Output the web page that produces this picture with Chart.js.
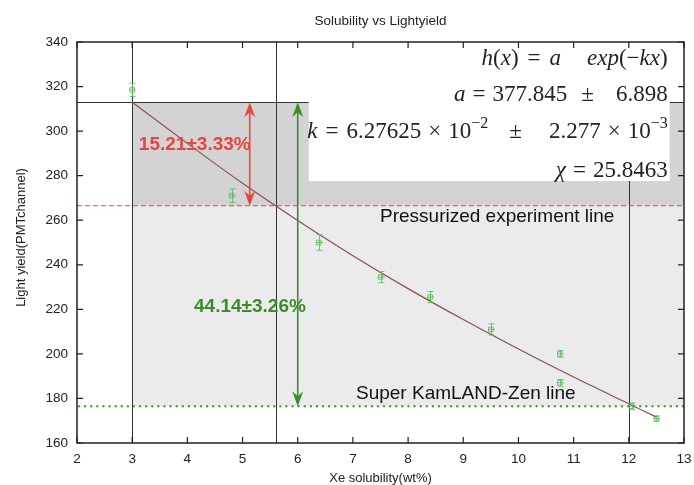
<!DOCTYPE html>
<html>
<head>
<meta charset="utf-8">
<script src="https://cdn.jsdelivr.net/npm/chart.js@4/dist/chart.umd.min.js"></script>
<style>
  html, body { margin: 0; padding: 0; background: #fff; }
  #wrap { width: 694px; height: 485px; }
</style>
</head>
<body>
<div id="wrap"><canvas id="c" width="694" height="485"></canvas></div>
<script>
// Measured light yield against Xe solubility
const solubility = [3.0, 4.8, 6.38, 7.5, 8.4, 9.5, 10.75, 10.75, 12.05, 12.5];
const lightYield = [318.5, 271.0, 250.0, 234.5, 225.5, 211.0, 200.0, 187.0, 176.5, 171.0];
const yieldError = [3.0, 3.0, 3.5, 2.5, 2.5, 2.5, 1.5, 1.5, 1.5, 1.2];

// Exponential fit h(x) = a exp(-kx), sampled along the curve
const fitX = [3, 4, 5, 6, 7, 8, 9, 10, 11, 12, 12.5];
const fitY = [313.0, 294.5, 276.6, 259.9, 244.1, 229.3, 215.4, 202.2, 189.6, 177.6, 171.6];

// Reference levels and markers
const startYield = 313.0;        // yield at 3 wt%
const pressurizedYield = 266.5;  // pressurized experiment line
const kamlandYield = 176.5;      // Super KamLAND-Zen line
const verticalMarks = [3, 5.6, 12];
const redArrowX = 5.13;
const greenArrowX = 6;
const redLabel = '15.21±3.33%';
const greenLabel = '44.14±3.26%';

// Axis ticks
const xTicks = [2, 3, 4, 5, 6, 7, 8, 9, 10, 11, 12, 13];
const yTicks = [160, 180, 200, 220, 240, 260, 280, 300, 320, 340];

// Fit parameter box (data coordinates of its edges)
const fitBox = { x0: 6.2, x1: 12.74, yBottom: 277.6 };

const RED = '#e8453c';
const GREEN = '#3d8c2c';
const SANS = 'Arial, "Liberation Sans", Helvetica, sans-serif';
const SERIF = '"Liberation Serif", "Times New Roman", serif';

function arrowHead(ctx, x, tipY, dir, color) {
  // dir = +1 points down, -1 points up
  const len = 15, half = 5.5, notch = 10;
  ctx.save();
  ctx.fillStyle = color;
  ctx.beginPath();
  ctx.moveTo(x, tipY);
  ctx.lineTo(x - half, tipY - dir * len);
  ctx.lineTo(x, tipY - dir * notch);
  ctx.lineTo(x + half, tipY - dir * len);
  ctx.closePath();
  ctx.fill();
  ctx.restore();
}

function doubleArrow(ctx, x, yTop, yBot, color) {
  ctx.save();
  ctx.strokeStyle = color;
  ctx.lineWidth = 1.6;
  ctx.beginPath();
  ctx.moveTo(x, yTop + 8);
  ctx.lineTo(x, yBot - 8);
  ctx.stroke();
  ctx.restore();
  arrowHead(ctx, x, yTop, -1, color);
  arrowHead(ctx, x, yBot, 1, color);
}

// Draw a run of math-like text right-aligned at rightX
function mathLine(ctx, runs, rightX, baseline, size) {
  const fontOf = r => (r.it ? 'italic ' : '') + (r.sup ? Math.round(size * 0.7) : size) + 'px ' + SERIF;
  let total = 0;
  runs.forEach(r => {
    if (r.gap) { total += r.gap; return; }
    ctx.font = fontOf(r);
    total += ctx.measureText(r.t).width;
  });
  let x = rightX - total;
  ctx.textAlign = 'left';
  ctx.textBaseline = 'alphabetic';
  runs.forEach(r => {
    if (r.gap) { x += r.gap; return; }
    ctx.font = fontOf(r);
    ctx.fillText(r.t, x, r.sup ? baseline - size * 0.42 : baseline);
    x += ctx.measureText(r.t).width;
  });
}

const backdrop = {
  id: 'backdrop',
  beforeDatasetsDraw(chart) {
    const { ctx, chartArea: a, scales: { x, y } } = chart;
    const px = v => x.getPixelForValue(v);
    const py = v => y.getPixelForValue(v);
    ctx.save();
    ctx.beginPath();
    ctx.rect(a.left, a.top, a.right - a.left, a.bottom - a.top);
    ctx.clip();

    // shaded bands
    ctx.fillStyle = '#ebebeb';
    ctx.fillRect(px(3), py(pressurizedYield), px(13) - px(3), py(kamlandYield) - py(pressurizedYield));
    ctx.fillStyle = '#d3d3d3';
    ctx.fillRect(px(3), py(startYield), px(13) - px(3), py(pressurizedYield) - py(startYield));

    // vertical markers and top level
    ctx.strokeStyle = '#333';
    ctx.lineWidth = 1;
    verticalMarks.forEach(v => {
      const xx = Math.round(px(v)) + 0.5;
      ctx.beginPath(); ctx.moveTo(xx, a.top); ctx.lineTo(xx, a.bottom); ctx.stroke();
    });
    const ys = Math.round(py(startYield)) + 0.5;
    ctx.beginPath(); ctx.moveTo(a.left, ys); ctx.lineTo(a.right, ys); ctx.stroke();

    // pressurized line (dashed red)
    ctx.strokeStyle = RED;
    ctx.setLineDash([5, 3]);
    ctx.beginPath();
    ctx.moveTo(a.left, py(pressurizedYield)); ctx.lineTo(a.right, py(pressurizedYield));
    ctx.stroke();

    // Super KamLAND-Zen line (dotted green)
    ctx.strokeStyle = '#4aa53a';
    ctx.lineWidth = 2.4;
    ctx.lineCap = 'round';
    ctx.setLineDash([0.1, 6]);
    ctx.beginPath();
    ctx.moveTo(a.left + 2, py(kamlandYield)); ctx.lineTo(a.right, py(kamlandYield));
    ctx.stroke();
    ctx.setLineDash([]);

    // fit parameter box
    ctx.fillStyle = '#fff';
    ctx.fillRect(px(fitBox.x0), a.top + 1, px(fitBox.x1) - px(fitBox.x0), py(fitBox.yBottom) - a.top - 1);

    ctx.fillStyle = '#222';
    const R = px(fitBox.x1) - 2;
    const S = 23;
    mathLine(ctx, [
      { t: 'h', it: 1 }, { t: '(' }, { t: 'x', it: 1 }, { t: ')' }, { gap: 9 }, { t: '=' }, { gap: 9 },
      { t: 'a', it: 1 }, { gap: 26 }, { t: 'exp', it: 1 }, { t: '(' }, { t: '−' }, { t: 'kx', it: 1 }, { t: ')' }
    ], R, 65, S);
    mathLine(ctx, [
      { t: 'a', it: 1 }, { gap: 7 }, { t: '=' }, { gap: 7 }, { t: '377.845' }, { gap: 14 }, { t: '±' },
      { gap: 22 }, { t: '6.898' }
    ], R, 101, S);
    mathLine(ctx, [
      { t: 'k', it: 1 }, { gap: 8 }, { t: '=' }, { gap: 8 }, { t: '6.27625' }, { gap: 7 }, { t: '×' }, { gap: 7 },
      { t: '10' }, { t: '−2', sup: 1 }, { gap: 21 }, { t: '±' }, { gap: 27 }, { t: '2.277' }, { gap: 7 },
      { t: '×' }, { gap: 7 }, { t: '10' }, { t: '−3', sup: 1 }
    ], R, 138, S);
    mathLine(ctx, [
      { t: 'χ', it: 1 }, { gap: 7 }, { t: '=' }, { gap: 7 }, { t: '25.8463' }
    ], R, 177, S);

    ctx.restore();
  },
  afterDatasetsDraw(chart) {
    const { ctx, chartArea: a, scales: { x, y } } = chart;
    const px = v => x.getPixelForValue(v);
    const py = v => y.getPixelForValue(v);
    ctx.save();

    // error bars
    ctx.strokeStyle = 'rgba(90,190,90,0.85)';
    ctx.lineWidth = 1;
    solubility.forEach((sx, i) => {
      const cx = Math.round(px(sx)) + 0.5;
      const t = py(lightYield[i] + yieldError[i]);
      const b = py(lightYield[i] - yieldError[i]);
      ctx.beginPath();
      ctx.moveTo(cx, t); ctx.lineTo(cx, b);
      ctx.moveTo(cx - 3, t); ctx.lineTo(cx + 3, t);
      ctx.moveTo(cx - 3, b); ctx.lineTo(cx + 3, b);
      ctx.moveTo(cx - 3.5, py(lightYield[i])); ctx.lineTo(cx + 3.5, py(lightYield[i]));
      ctx.stroke();
    });

    // arrows and percentages
    doubleArrow(ctx, px(redArrowX), py(startYield), py(pressurizedYield), RED);
    doubleArrow(ctx, px(greenArrowX), py(startYield), py(kamlandYield), GREEN);
    ctx.font = 'bold 19px ' + SANS;
    ctx.textBaseline = 'alphabetic';
    ctx.textAlign = 'right';
    ctx.fillStyle = RED;
    ctx.fillText(redLabel, px(redArrowX) + 1, 150);
    ctx.fillStyle = GREEN;
    ctx.textAlign = 'left';
    ctx.fillText(greenLabel, 194, 312);

    // level names
    ctx.fillStyle = '#111';
    ctx.font = '19px ' + SANS;
    ctx.textAlign = 'left';
    ctx.fillText('Pressurized experiment line', 380, 222);
    ctx.fillText('Super KamLAND-Zen line', 356, 399);

    // frame and inward ticks
    ctx.strokeStyle = '#222';
    ctx.lineWidth = 1.5;
    ctx.strokeRect(a.left, a.top, a.right - a.left, a.bottom - a.top);
    ctx.lineWidth = 1.2;
    ctx.beginPath();
    xTicks.forEach(v => {
      const xx = px(v);
      ctx.moveTo(xx, a.bottom); ctx.lineTo(xx, a.bottom - 6);
      ctx.moveTo(xx, a.top); ctx.lineTo(xx, a.top + 6);
    });
    yTicks.forEach(v => {
      const yy = py(v);
      ctx.moveTo(a.left, yy); ctx.lineTo(a.left + 6, yy);
      ctx.moveTo(a.right, yy); ctx.lineTo(a.right - 6, yy);
    });
    ctx.stroke();

    // titles
    ctx.fillStyle = '#222';
    ctx.font = '13.5px ' + SANS;
    ctx.textAlign = 'center';
    ctx.textBaseline = 'middle';
    ctx.fillText('Solubility vs Lightyield', (a.left + a.right) / 2, 21);
    ctx.font = '13px ' + SANS;
    ctx.fillText('Xe solubility(wt%)', (a.left + a.right) / 2, 478);
    ctx.translate(21, (a.top + a.bottom) / 2 - 5);
    ctx.rotate(-Math.PI / 2);
    ctx.fillText('Light yield(PMTchannel)', 0, 0);
    ctx.restore();
  }
};

new Chart(document.getElementById('c'), {
  type: 'scatter',
  data: {
    datasets: [
      {
        label: 'fit',
        data: fitX.map((v, i) => ({ x: v, y: fitY[i] })),
        showLine: true,
        borderColor: '#8c4f4f',
        borderWidth: 1.2,
        pointRadius: 0,
        tension: 0.3
      },
      {
        label: 'measured',
        data: solubility.map((v, i) => ({ x: v, y: lightYield[i] })),
        pointStyle: 'rect',
        pointRadius: 3.2,
        borderColor: 'rgba(90,190,90,0.85)',
        backgroundColor: 'rgba(0,0,0,0)',
        borderWidth: 1
      }
    ]
  },
  options: {
    responsive: false,
    animation: false,
    devicePixelRatio: 1,
    layout: { padding: { left: 0, top: 42, right: 10, bottom: 0 } },
    plugins: { legend: { display: false }, tooltip: { enabled: false }, title: { display: false } },
    scales: {
      x: {
        type: 'linear', min: 2, max: 13,
        afterBuildTicks: s => { s.ticks = xTicks.map(v => ({ value: v })); },
        afterFit: s => { s.height = 42; s.paddingRight = 0; },
        grid: { display: false, drawTicks: false },
        border: { display: false },
        ticks: { padding: 8, color: '#222', font: { family: SANS, size: 13.5 }, maxRotation: 0 }
      },
      y: {
        type: 'linear', min: 160, max: 340,
        afterBuildTicks: s => { s.ticks = yTicks.map(v => ({ value: v })); },
        afterFit: s => { s.width = 77; },
        grid: { display: false, drawTicks: false },
        border: { display: false },
        ticks: { padding: 9, color: '#222', font: { family: SANS, size: 13.5 } }
      }
    }
  },
  plugins: [backdrop]
});
</script>
</body>
</html>
